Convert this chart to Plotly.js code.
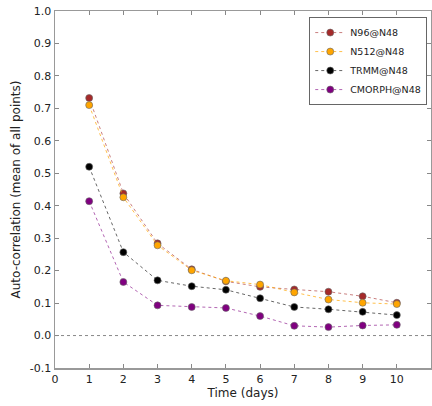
<!DOCTYPE html>
<html><head><meta charset="utf-8">
<script src="https://cdn.plot.ly/plotly-3.0.1.min.js"></script>
<style>html,body{margin:0;padding:0;background:#fff}#chart{width:432px;height:406px}</style>
</head><body><div id="chart"></div>
<script>
const days = [1,2,3,4,5,6,7,8,9,10];
const n96 = [0.732,0.438,0.284,0.204,0.167,0.150,0.142,0.135,0.121,0.101];
const n512 = [0.710,0.426,0.278,0.201,0.169,0.157,0.133,0.111,0.101,0.097];
const trmm = [0.520,0.257,0.170,0.152,0.141,0.115,0.088,0.081,0.073,0.063];
const cmorph = [0.414,0.165,0.093,0.088,0.085,0.060,0.030,0.026,0.031,0.033];
const names = ["N96@N48","N512@N48","TRMM@N48","CMORPH@N48"];
const colors = ["#a52a2a","#ffa500","#000000","#800080"];
const lineColors = ["rgba(165,42,42,0.6)","rgba(255,165,0,0.7)","rgba(0,0,0,0.6)","rgba(128,0,128,0.6)"];
const series = [n96,n512,trmm,cmorph];
const xTicks = [0,1,2,3,4,5,6,7,8,9,10];
const yTicks = [-0.1,0.0,0.1,0.2,0.3,0.4,0.5,0.6,0.7,0.8,0.9,1.0];
const yTickText = yTicks.map(v=>v.toFixed(1));

const traces = series.map((s,i)=>({
  x: days, y: s, name: names[i], type:'scatter', mode:'lines+markers',
  line:{color:lineColors[i], dash:'dot', width:1},
  marker:{color:colors[i], size:7, line:{color:'#666', width:0.6}}
}));
traces.push({x:[0,11], y:[0,0], mode:'lines', line:{color:'#888', dash:'dot', width:1}, showlegend:false, hoverinfo:'skip'});

const axFont = {family:'DejaVu Sans', size:11, color:'#222'};
Plotly.newPlot('chart', traces, {
  width:432, height:406,
  margin:{l:55, r:1, t:11, b:38},
  paper_bgcolor:'#fff', plot_bgcolor:'#fff',
  font:{family:'DejaVu Sans', size:11, color:'#222'},
  xaxis:{range:[0,11], tickvals:xTicks, ticks:'inside', ticklen:4, tickcolor:'#888',
    showline:true, linecolor:'#999', linewidth:1.5, mirror:'ticks', showgrid:false, zeroline:false,
    tickfont:axFont, title:{text:'Time (days)', font:{family:'DejaVu Sans', size:12, color:'#222'}, standoff:2}},
  yaxis:{range:[-0.1,1.0], tickvals:yTicks, ticktext:yTickText, ticks:'inside', ticklen:4, tickcolor:'#888',
    showline:true, linecolor:'#999', linewidth:1.5, mirror:'ticks', showgrid:false, zeroline:false,
    tickfont:axFont, title:{text:'Auto-correlation (mean of all points)', font:{family:'DejaVu Sans', size:12, color:'#222'}, standoff:6}},
  legend:{x:0.99, y:0.983, xanchor:'right', yanchor:'top', bgcolor:'#fff', bordercolor:'#666', borderwidth:1,
    font:{family:'DejaVu Sans', size:9.5, color:'#222'}, tracegroupgap:0, itemwidth:30},
  showlegend:true
}, {staticPlot:true});
</script></body></html>
